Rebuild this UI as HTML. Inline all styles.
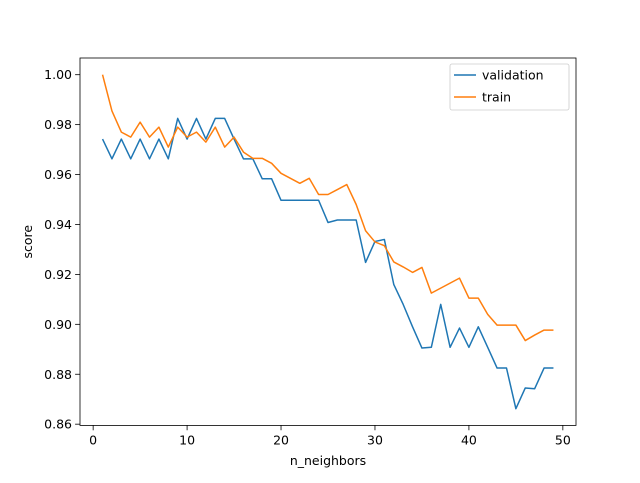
<!DOCTYPE html>
<html><head><meta charset="utf-8"><style>
body{margin:0;background:#fff}
text{font-family:"DejaVu Sans","Liberation Sans",sans-serif;font-size:12.5px;fill:#000}
</style></head><body>
<svg id="c" width="640" height="478"></svg>
<script>
const ks=[];for(let i=1;i<=49;i++)ks.push(i);
const validation=[.9742,.9663,.9742,.9663,.9742,.9663,.9742,.9663,.9825,.9742,.9825,.9742,.9825,.9825,.9742,.9663,.9663,.9583,.9583,.9497,.9497,.9497,.9497,.9497,.9408,.9418,.9418,.9418,.9248,.9332,.9340,.9160,.9080,.8990,.8905,.8908,.9080,.8908,.8985,.8908,.8990,.8908,.8825,.8825,.8662,.8745,.8742,.8825,.8825];
const train=[1.0,.9855,.977,.975,.981,.975,.979,.971,.979,.975,.977,.973,.979,.971,.975,.969,.9665,.9665,.9645,.9605,.9585,.9565,.9585,.952,.952,.954,.956,.948,.9375,.933,.9315,.925,.923,.9208,.9228,.9125,.9145,.9165,.9185,.9105,.9105,.904,.8997,.8997,.8997,.8935,.8957,.8977,.8977];
const xTicks=[0,10,20,30,40,50];
const yTicks=[0.86,0.88,0.90,0.92,0.94,0.96,0.98,1.00];
const L=80,R=576,T=58,B=425.4;
const all=validation.concat(train);
const ymin=Math.min(...all),ymax=Math.max(...all),ym=(ymax-ymin)*0.05;
const y0=ymin-ym,y1=ymax+ym;
const x0=ks[0]-(ks[ks.length-1]-ks[0])*0.05,x1=ks[ks.length-1]+(ks[ks.length-1]-ks[0])*0.05;
const X=v=>L+(v-x0)/(x1-x0)*(R-L);
const Y=v=>B-(v-y0)/(y1-y0)*(B-T);
const svg=document.getElementById('c');const NS='http://www.w3.org/2000/svg';
function mk(t,a,p){const e=document.createElementNS(NS,t);for(const k in a)e.setAttribute(k,a[k]);(p||svg).appendChild(e);return e;}
function line(vals,col,name){
 const e=mk('polyline',{points:vals.map((v,i)=>X(ks[i])+','+Y(v)).join(' '),fill:'none',stroke:col,'stroke-width':1.5,'stroke-linejoin':'round'});
 
 
}
line(validation,'#1f77b4','validation-line');
line(train,'#ff7f0e','train-line');
const fr=mk('rect',{x:L,y:T,width:R-L,height:B-T,fill:'none',stroke:'#000','stroke-width':0.8});


xTicks.forEach(t=>{const x=X(t);mk('line',{x1:x,x2:x,y1:B,y2:B+4.9,stroke:'#000','stroke-width':0.8});
 const tx=mk('text',{x:x,y:B+19,'text-anchor':'middle'});tx.textContent=t;
 
 });
yTicks.forEach(t=>{const y=Y(t);mk('line',{x1:L-4.9,x2:L,y1:y,y2:y,stroke:'#000','stroke-width':0.8});
 const tx=mk('text',{x:L-8,y:y+4.5,'text-anchor':'end'});tx.textContent=t.toFixed(2);
 
 });
const xl=mk('text',{x:(L+R)/2,y:465,'text-anchor':'middle'});xl.textContent='n_neighbors';


const yl=mk('text',{x:0,y:0,'text-anchor':'middle',transform:`translate(32,${(T+B)/2}) rotate(-90)`});yl.textContent='score';


const lg=mk('g',{});


mk('rect',{x:450,y:64,width:119,height:46,rx:2,fill:'#fff','fill-opacity':0.8,stroke:'#ccc','stroke-width':0.8},lg);
[['validation','#1f77b4'],['train','#ff7f0e']].forEach((d,i)=>{const y=75+i*22;
 mk('line',{x1:454,x2:476,y1:y,y2:y,stroke:d[1],'stroke-width':1.5},lg);
 const t=mk('text',{x:482,y:y+4.5},lg);t.textContent=d[0];
 
 });
</script>
</body></html>
